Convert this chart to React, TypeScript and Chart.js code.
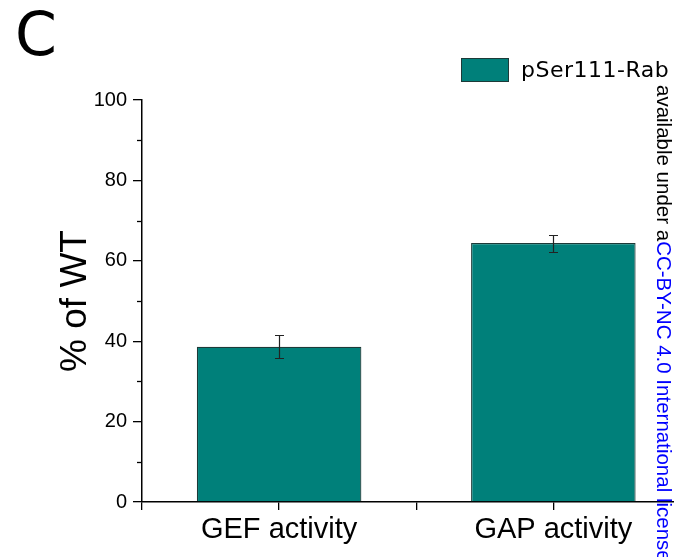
import React, { useEffect, useRef } from 'react';
import { Chart, registerables } from 'chart.js';

Chart.register(...registerables);

// ---- data ----
const categories = ['GEF activity', 'GAP activity'];
const seriesLabel = 'pSer111-Rab';
const values = [38.6, 64.4];
const errors = [2.9, 2.1];
const yMinorTicks = [10, 30, 50, 70, 90];
const panelLetter = 'C';
const sideTextBlack = 'available under a';
const sideTextBlue = 'CC-BY-NC 4.0 International license';
const yTitle = '% of WT';

const TEAL = '#00807a';
const BAR_EDGE = '#1d3a38';
const SANS = '"Liberation Sans", Arial, sans-serif';

export default function App() {
  const ref = useRef<HTMLCanvasElement>(null);

  useEffect(() => {
    document.body.style.margin = '0';
    const canvas = ref.current!;

    const extras = {
      id: 'extras',
      afterDatasetsDraw(chart: any) {
        const ctx = chart.ctx;
        const y = chart.scales.y;
        const meta = chart.getDatasetMeta(0);
        ctx.save();
        ctx.strokeStyle = '#222';
        ctx.lineWidth = 1.2;
        meta.data.forEach((bar: any, i: number) => {
          const x = Math.round(bar.x) + 0.5;
          const yt = Math.round(y.getPixelForValue(values[i] + errors[i])) + 0.5;
          const yb = Math.round(y.getPixelForValue(values[i] - errors[i])) + 0.5;
          ctx.beginPath();
          ctx.moveTo(x, yt);
          ctx.lineTo(x, yb);
          ctx.moveTo(x - 4.5, yt);
          ctx.lineTo(x + 4.5, yt);
          ctx.moveTo(x - 4.5, yb);
          ctx.lineTo(x + 4.5, yb);
          ctx.stroke();
        });
        ctx.restore();
      },
      afterDraw(chart: any) {
        const ctx = chart.ctx;
        const area = chart.chartArea;
        const y = chart.scales.y;
        ctx.save();
        // minor y ticks
        ctx.strokeStyle = '#000';
        ctx.lineWidth = 1.3;
        yMinorTicks.forEach((v) => {
          const py = Math.round(y.getPixelForValue(v)) + 0.5;
          ctx.beginPath();
          ctx.moveTo(area.left - 5, py);
          ctx.lineTo(area.left, py);
          ctx.stroke();
        });
        // panel letter
        ctx.fillStyle = '#000';
        ctx.font = '60px "DejaVu Sans", Verdana, sans-serif';
        ctx.textBaseline = 'alphabetic';
        ctx.textAlign = 'left';
        ctx.fillText(panelLetter, 15, 55);
        // legend
        const ds = chart.data.datasets[0];
        ctx.fillStyle = ds.backgroundColor;
        ctx.fillRect(461, 58, 48, 24);
        ctx.strokeStyle = BAR_EDGE;
        ctx.lineWidth = 1;
        ctx.strokeRect(461.5, 58.5, 47, 23);
        ctx.fillStyle = '#000';
        ctx.font = '22px "DejaVu Sans", Verdana, sans-serif';
        (ctx as any).letterSpacing = '0.5px';
        ctx.fillText(ds.label, 521, 77);
        (ctx as any).letterSpacing = '0px';
        // side text (rotated)
        ctx.translate(657, 85);
        ctx.rotate(Math.PI / 2);
        ctx.font = '20.5px ' + SANS;
        ctx.fillStyle = '#000';
        ctx.fillText(sideTextBlack, 0, 0);
        const w = ctx.measureText(sideTextBlack).width;
        ctx.fillStyle = '#0000ff';
        ctx.fillText(sideTextBlue, w, 0);
        ctx.restore();
      },
    };

    const chart = new Chart(canvas, {
      type: 'bar',
      data: {
        datasets: [
          {
            label: seriesLabel,
            data: categories.map((c, i) => ({ x: i + 1, y: values[i] })) as any,
            backgroundColor: TEAL,
            borderColor: BAR_EDGE,
            borderWidth: 1.2,
            barPercentage: 1.2,
            categoryPercentage: 1,
          },
        ],
      },
      options: {
        responsive: false,
        animation: false,
        devicePixelRatio: 1,
        layout: { padding: { top: 100, right: 0, left: 0, bottom: 0 } },
        plugins: { legend: { display: false }, tooltip: { enabled: false } },
        scales: {
          x: {
            type: 'linear',
            min: 0.5,
            max: 2.44,
            offset: false,
            grid: {
              offset: false,
              drawOnChartArea: false,
              drawTicks: true,
              tickLength: 8,
              tickColor: '#000',
              lineWidth: 1.3,
            },
            border: { display: true, color: '#000', width: 1.5 },
            ticks: {
              stepSize: 0.5,
              includeBounds: false,
              autoSkip: false,
              maxRotation: 0,
              padding: 3,
              color: '#000',
              font: { family: SANS, size: 29 },
              callback: (v: any) => {
                const n = Number(v);
                return Number.isInteger(n) && categories[n - 1] ? categories[n - 1] : '';
              },
            },
            afterFit: (s: any) => {
              s.height = 55;
            },
          },
          y: {
            min: 0,
            max: 100,
            grid: {
              drawOnChartArea: false,
              drawTicks: true,
              tickLength: 9,
              tickColor: '#000',
              lineWidth: 1.3,
            },
            border: { display: true, color: '#000', width: 1.5 },
            ticks: {
              stepSize: 20,
              padding: 6,
              color: '#000',
              font: { family: SANS, size: 20 },
            },
            title: {
              display: true,
              text: yTitle,
              color: '#000',
              font: { family: SANS, size: 37 },
              padding: { top: 54, bottom: 0 },
            },
            afterFit: (s: any) => {
              s.width = 142;
            },
          },
        },
      },
      plugins: [extras],
    } as any);

    return () => chart.destroy();
  }, []);

  return (
    <div style={{ width: 674, height: 557, position: 'relative' }}>
      <canvas ref={ref} width={674} height={557} style={{ display: 'block' }} />
    </div>
  );
}
